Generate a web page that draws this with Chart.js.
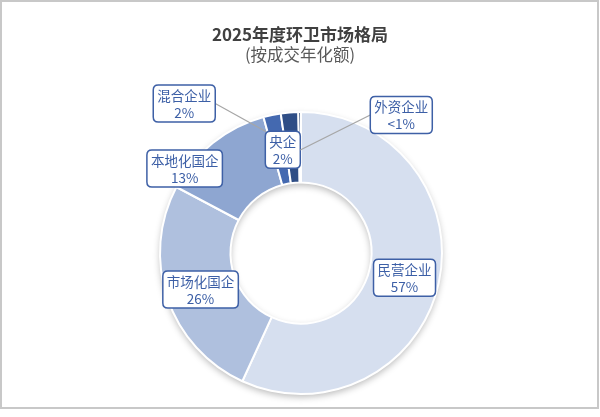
<!DOCTYPE html>
<html>
<head>
<meta charset="utf-8">
<script src="https://cdn.jsdelivr.net/npm/chart.js@4/dist/chart.umd.min.js"></script>
<style>
html,body{margin:0;padding:0;background:#fff;}
#wrap{width:600px;height:417px;position:relative;}
</style>
</head>
<body>
<div id="wrap"><canvas id="c" width="600" height="417"></canvas></div>
<script>
const titleText = "2025年度环卫市场格局";
const subtitleText = "(按成交年化额)";
const categories = ["民营企业", "市场化国企", "本地化国企", "混合企业", "央企", "外资企业"];
const values = [57, 26, 13, 2, 2, 0.3];
const valueLabels = ["57%", "26%", "13%", "2%", "2%", "<1%"];
const sliceColors = ["#d6dfef", "#afc0de", "#8ea6d1", "#4469b0", "#2f4e86", "#1f3864"];

// label placement: angle (deg, clockwise from 12 o'clock) and radius as fraction of outer radius
const labelPlacement = [
  {a: 103.5, r: 0.755},
  {a: 250, r: 0.758},
  {a: 306, r: 1.02},
  {a: 322, r: 1.345, leader: {a: 344, r: 0.895, side: "right"}},
  {a: 350, r: 0.743},
  {a: 36, r: 1.21, leader: {a: 359.6, r: 0.73, side: "left"}}
];

const FONT = '"Noto Sans CJK SC", "Noto Sans", sans-serif';

function polar(cx, cy, R, p) {
  const t = p.a * Math.PI / 180;
  return {x: cx + p.r * R * Math.sin(t), y: cy - p.r * R * Math.cos(t)};
}

function roundRect(ctx, x, y, w, h, rad) {
  ctx.beginPath();
  ctx.moveTo(x + rad, y);
  ctx.lineTo(x + w - rad, y);
  ctx.quadraticCurveTo(x + w, y, x + w, y + rad);
  ctx.lineTo(x + w, y + h - rad);
  ctx.quadraticCurveTo(x + w, y + h, x + w - rad, y + h);
  ctx.lineTo(x + rad, y + h);
  ctx.quadraticCurveTo(x, y + h, x, y + h - rad);
  ctx.lineTo(x, y + rad);
  ctx.quadraticCurveTo(x, y, x + rad, y);
  ctx.closePath();
}

const framePlugin = {
  id: "frame",
  beforeDraw(chart) {
    const ctx = chart.ctx;
    ctx.save();
    ctx.fillStyle = "#fff";
    ctx.fillRect(0, 0, chart.width, chart.height);
    ctx.strokeStyle = "#c8c8c8";
    ctx.lineWidth = 2;
    ctx.strokeRect(1, 1, 597, 407);
    ctx.fillStyle = "#404040";
    ctx.textAlign = "center";
    ctx.textBaseline = "middle";
    ctx.font = "bold 17px " + FONT;
    ctx.fillText(titleText, 300, 35);
    ctx.fillStyle = "#595959";
    ctx.font = "16.5px " + FONT;
    ctx.fillText(subtitleText, 300, 55);
    ctx.restore();
  },
  beforeDatasetsDraw(chart) {
    const arc = chart.getDatasetMeta(0).data[0];
    if (!arc) return;
    const ctx = chart.ctx;
    ctx.save();
    ctx.beginPath();
    ctx.arc(arc.x, arc.y, arc.outerRadius, 0, Math.PI * 2);
    ctx.arc(arc.x, arc.y, arc.innerRadius, 0, Math.PI * 2, true);
    ctx.shadowColor = "rgba(0,0,0,0.28)";
    ctx.shadowBlur = 7;
    ctx.shadowOffsetY = 3;
    ctx.fillStyle = "#fff";
    ctx.fill();
    ctx.restore();
  },
  afterDatasetsDraw(chart) {
    const arc = chart.getDatasetMeta(0).data[0];
    if (!arc) return;
    const ctx = chart.ctx;
    const cx = arc.x, cy = arc.y, R = arc.outerRadius;
    ctx.save();
    ctx.font = "13.5px " + FONT;
    ctx.textAlign = "center";
    ctx.textBaseline = "middle";
    const lineH = 17;
    categories.forEach((cat, i) => {
      const pl = labelPlacement[i];
      const c = polar(cx, cy, R, pl);
      const w = Math.max(ctx.measureText(cat).width, ctx.measureText(valueLabels[i]).width) + 8;
      const h = lineH * 2 + 3;
      const x0 = c.x - w / 2, y0 = c.y - h / 2;
      if (pl.leader) {
        const e = polar(cx, cy, R, pl.leader);
        const sx = pl.leader.side === "right" ? x0 + w : x0;
        ctx.beginPath();
        ctx.moveTo(sx, c.y);
        ctx.lineTo(e.x, e.y);
        ctx.strokeStyle = "#a6a6a6";
        ctx.lineWidth = 1.2;
        ctx.stroke();
      }
      roundRect(ctx, x0, y0, w, h, 5);
      ctx.fillStyle = "#ffffff";
      ctx.fill();
      ctx.strokeStyle = "#3e60a6";
      ctx.lineWidth = 1.5;
      ctx.stroke();
      ctx.fillStyle = "#3c5fa6";
      ctx.fillText(cat, c.x, c.y - lineH / 2 + 0.5);
      ctx.fillText(valueLabels[i], c.x, c.y + lineH / 2 + 0.5);
    });
    ctx.restore();
  }
};

new Chart(document.getElementById("c"), {
  type: "doughnut",
  data: {
    labels: categories,
    datasets: [{
      data: values,
      backgroundColor: sliceColors,
      borderColor: "#ffffff",
      borderWidth: 2
    }]
  },
  options: {
    responsive: false,
    animation: false,
    cutout: "50%",
    layout: {padding: {top: 111, bottom: 22, left: 2, right: 0}},
    plugins: {
      legend: {display: false},
      title: {display: false},
      tooltip: {enabled: false}
    }
  },
  plugins: [framePlugin]
});
</script>
</body>
</html>
